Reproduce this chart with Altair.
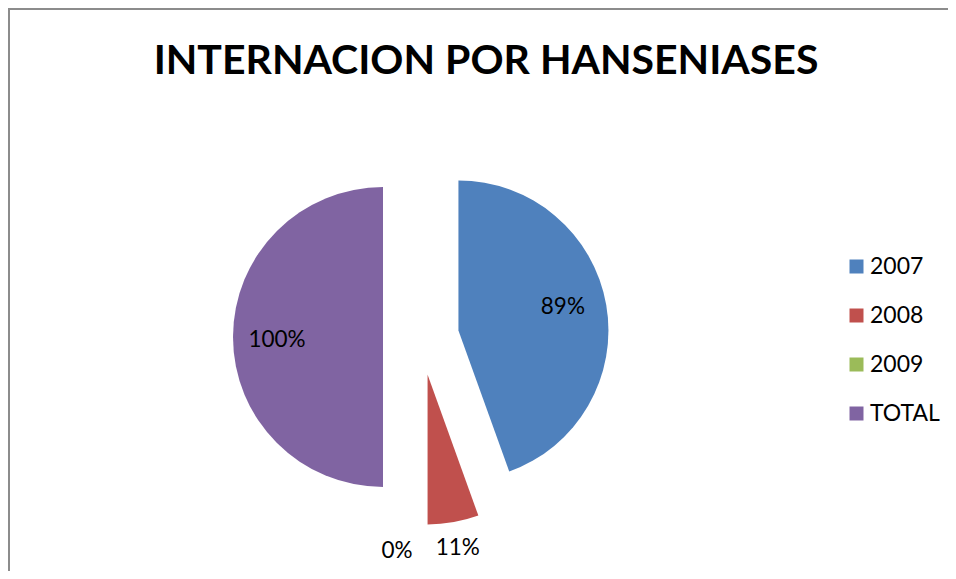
import altair as alt
import pandas as pd

categories = ["2007", "2008", "2009", "TOTAL"]
values = [0.89, 0.11, 0.0, 1.00]
colors = ["#4F81BD", "#C0504D", "#9BBB59", "#8064A2"]

df = pd.DataFrame({"idx": list(range(len(categories))), "cat": categories, "value": values})

W, H = 940, 563
CX, CY, D, R = 413, 329, 38, 150

base = alt.Chart(df).transform_joinaggregate(
    total="sum(value)"
).transform_window(
    cum="sum(value)", sort=[alt.SortField("idx")], frame=[None, 0]
).transform_calculate(
    t1="2*PI*datum.cum/datum.total",
    t0="2*PI*(datum.cum-datum.value)/datum.total",
).transform_calculate(
    mid="(datum.t0+datum.t1)/2",
    share="datum.value/datum.total",
).transform_calculate(
    px=f"{CX}+{D}*sin(datum.mid)",
    py=f"{CY}-{D}*cos(datum.mid)",
    lr="datum.share < 0.1 ? 176 : 106",
).transform_calculate(
    lx="datum.px + datum.lr*sin(datum.mid) - (datum.value == 0 ? 24 : 0)",
    ly="datum.py - datum.lr*cos(datum.mid) + (datum.share < 0.1 ? 0 : (datum.mid < PI ? -5 : 3))",
    label="format(datum.value, '.0%')",
)

arcs = base.mark_arc(outerRadius=R).encode(
    theta=alt.Theta("t0:Q", scale=None, stack=False),
    theta2="t1:Q",
    x=alt.X("px:Q", scale=None),
    y=alt.Y("py:Q", scale=None),
    color=alt.Color(
        "cat:N",
        scale=alt.Scale(domain=categories, range=colors),
        sort=categories,
        legend=alt.Legend(
            title=None, orient="none", legendX=837, legendY=247,
            symbolType="square", symbolSize=196, symbolStrokeWidth=0,
            labelFont="Lato", labelFontSize=23, labelColor="#000000",
            rowPadding=25, labelOffset=2, padding=0,
        ),
    ),
)

labels = base.mark_text(font="Lato", fontSize=22.5, color="#000000", align="center", baseline="middle").encode(
    x=alt.X("lx:Q", scale=None),
    y=alt.Y("ly:Q", scale=None),
    text="label:N",
)

border_left = alt.Chart(df).mark_rule(color="#8C8C8C", strokeWidth=2).encode(
    x=alt.value(1), y=alt.value(0), y2=alt.value(H)
)
border_top = alt.Chart(df).mark_rule(color="#8C8C8C", strokeWidth=2).encode(
    x=alt.value(0), x2=alt.value(W), y=alt.value(1)
)

chart = alt.layer(border_left, border_top, arcs, labels).properties(
    width=W, height=H,
    autosize=alt.AutoSizeParams(type="none"),
    padding=0,
    title=alt.TitleParams(
        "INTERNACION POR HANSENIASES", font="Lato", fontSize=41, fontWeight="bold",
        color="#000000", anchor="middle", frame="group", baseline="alphabetic",
        offset=0, dy=108, dx=8,
    ),
).configure_view(stroke=None)

chart.save("out.html", embed_options={"renderer": "svg", "actions": False})
